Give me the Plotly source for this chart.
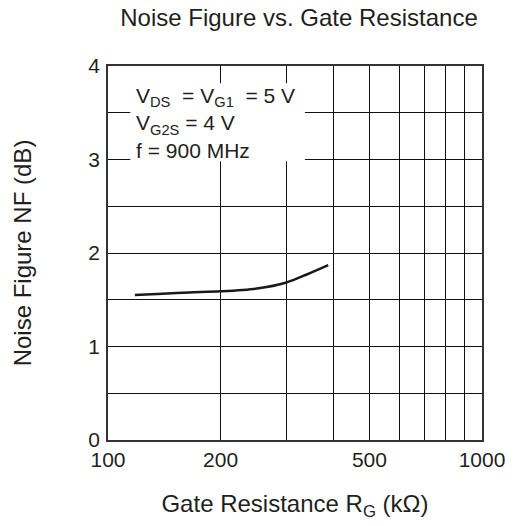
import plotly.graph_objects as go

# Data
rg_kohm = [118, 140, 165, 200, 250, 300, 340, 388]
nf_db = [1.55, 1.565, 1.578, 1.59, 1.62, 1.685, 1.77, 1.87]

x_grid_vals = [100, 200, 300, 400, 500, 600, 700, 800, 900, 1000]
x_tick_text = ["100", "200", "", "", "500", "", "", "", "", "1000"]
y_grid_vals = [0, 0.5, 1, 1.5, 2, 2.5, 3, 3.5, 4]
y_tick_text = ["0", "", "1", "", "2", "", "3", "", "4"]

FONT = "Liberation Sans, Arial, sans-serif"
TXT = "#231f20"

fig = go.Figure()
fig.add_trace(go.Scatter(
    x=rg_kohm, y=nf_db, mode="lines",
    line=dict(color="#1a1a1a", width=2.5, shape="spline", smoothing=0.8),
    showlegend=False, hoverinfo="skip"))

fig.update_layout(
    width=508, height=518,
    margin=dict(l=100, r=34, t=58, b=86),
    paper_bgcolor="white", plot_bgcolor="white",
    font=dict(family=FONT, size=21, color=TXT),
    title=dict(text="Noise Figure vs. Gate Resistance", x=291 / 508, xref="container",
               y=1 - 10 / 518, yref="container", xanchor="center", yanchor="middle",
               font=dict(size=24, family=FONT, color=TXT)),
    xaxis=dict(type="log", range=[2, 3], tickmode="array", tickvals=x_grid_vals,
               ticktext=x_tick_text, showgrid=True, gridcolor="#111", gridwidth=1,
               showline=True, linecolor="#333", linewidth=1.5, mirror=True,
               ticks="", tickfont=dict(size=21),
               zeroline=False, automargin=False,
               title=dict(text="Gate Resistance R<sub>G</sub> (kΩ)", standoff=25,
                          font=dict(size=24))),
    yaxis=dict(range=[0, 4], tickmode="array", tickvals=y_grid_vals,
               ticktext=y_tick_text, showgrid=True, gridcolor="#111", gridwidth=1,
               showline=True, linecolor="#333", linewidth=1.5, mirror=True,
               ticks="outside", ticklen=2, tickcolor="rgba(0,0,0,0)",
               tickfont=dict(size=21),
               zeroline=False, automargin=False,
               title=dict(text="Noise Figure NF (dB)", standoff=50,
                          font=dict(size=24))),
)

# white box behind the conditions text
fig.add_shape(type="rect", xref="paper", yref="paper",
              x0=0.0595, x1=0.5265, y0=0.745, y1=0.954,
              fillcolor="white", line=dict(width=0), layer="above")

fig.add_annotation(
    xref="paper", yref="paper", x=0.070, y=0.958, xanchor="left", yanchor="top",
    align="left", showarrow=False,
    text="V<sub>DS</sub>  = V<sub>G1</sub>  = 5 V<br>V<sub>G2S</sub> = 4 V<br>f = 900 MHz",
    font=dict(size=21, family=FONT, color=TXT))

fig.write_html("out.html")
